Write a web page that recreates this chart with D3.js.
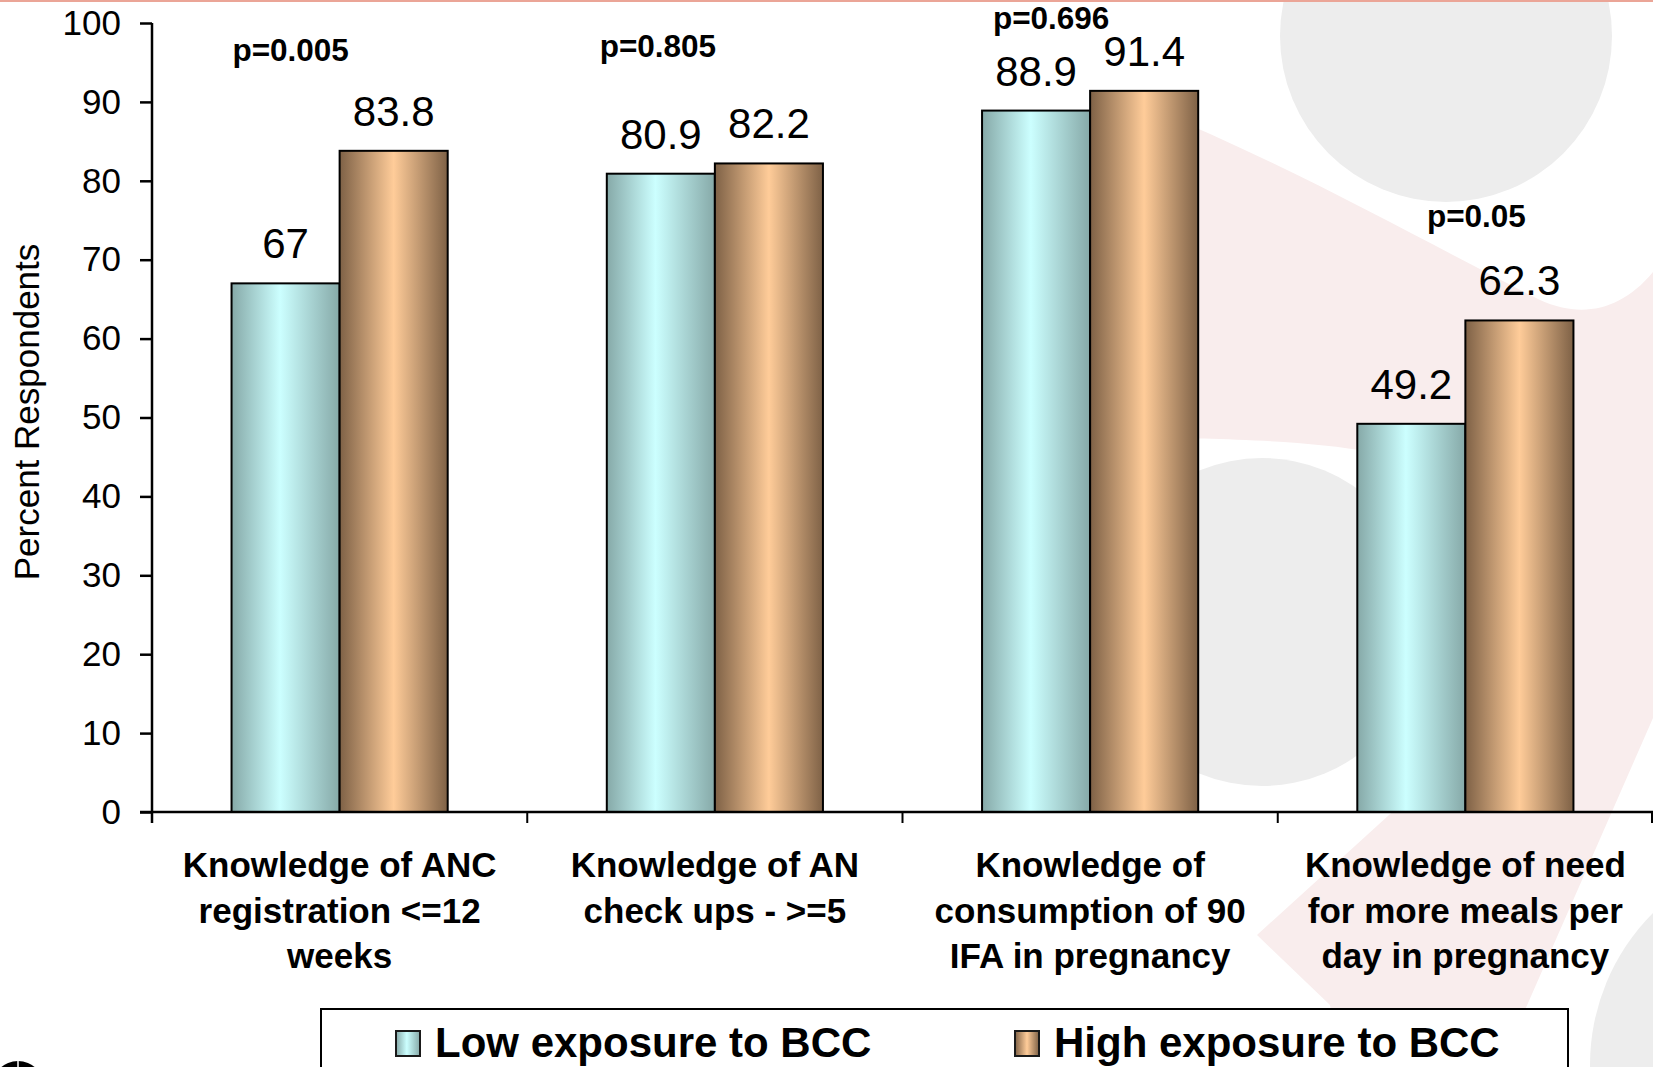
<!DOCTYPE html>
<html>
<head>
<meta charset="utf-8">
<script src="https://cdn.jsdelivr.net/npm/d3@7"></script>
<style>
  body { margin: 0; background: #fff; }
  svg { display: block; }
  text { font-family: "Liberation Sans", Arial, sans-serif; }
</style>
</head>
<body>
<svg id="chart" width="1653" height="1067"></svg>
<script>
// Category labels (one entry per line of the wrapped label)
const categories = [
  ["Knowledge of ANC", "registration <=12", "weeks"],
  ["Knowledge of AN", "check ups - >=5"],
  ["Knowledge of", "consumption of 90", "IFA in pregnancy"],
  ["Knowledge of need", "for more meals per", "day in pregnancy"]
];
const lowExposure  = [67, 80.9, 88.9, 49.2];
const highExposure = [83.8, 82.2, 91.4, 62.3];
const pValues = ["p=0.005", "p=0.805", "p=0.696", "p=0.05"];
const seriesNames = ["Low exposure to BCC", "High exposure to BCC"];
const yTicks = [0, 10, 20, 30, 40, 50, 60, 70, 80, 90, 100];

// Placement of the significance notes: horizontal shift from the group centre (px)
// and the height of the baseline in axis units.
const pNotePlacement = [
  { dx: -49, at: 95.2 },
  { dx: -57, at: 95.7 },
  { dx: -39, at: 99.2 },
  { dx: 11,  at: 74.1 }
];

const W = 1653, H = 1067;
const plot = { left: 152, right: 1653, top: 23, bottom: 812 };

const svg = d3.select("#chart");
const defs = svg.append("defs");

// Cylinder-like shading for the two series
function shade(id, edge, mid, midAt) {
  const g = defs.append("linearGradient").attr("id", id)
    .attr("x1", "0%").attr("x2", "100%").attr("y1", "0%").attr("y2", "0%");
  g.append("stop").attr("offset", "0%").attr("stop-color", edge);
  g.append("stop").attr("offset", midAt).attr("stop-color", mid);
  g.append("stop").attr("offset", "100%").attr("stop-color", edge);
}
shade("gradLow", "#86a9a8", "#ccffff", "45%");
shade("gradHigh", "#7e6146", "#ffcc99", "50%");
const fills = ["url(#gradLow)", "url(#gradHigh)"];

// ---- decorative slide background ----
const bg = svg.append("g");
bg.append("rect").attr("width", W).attr("height", H).attr("fill", "#fff");
bg.append("path")
  .attr("fill", "#f9eded")
  .attr("d", "M1150,108 C1300,170 1440,250 1540,300 C1580,318 1620,312 1653,272 " +
             "L1653,718 L1500,1067 L1340,1067 L1330,1005 L1257,935 L1400,805 " +
             "C1440,700 1430,490 1370,452 C1310,440 1200,438 1150,438 Z");
bg.append("circle").attr("cx", 1446).attr("cy", 36).attr("r", 166).attr("fill", "#ededed");
bg.append("circle").attr("cx", 1262).attr("cy", 622).attr("r", 164).attr("fill", "#ededed");
bg.append("circle").attr("cx", 1805).attr("cy", 1065).attr("r", 215).attr("fill", "#ededed");
bg.append("rect").attr("x", 0).attr("y", 0).attr("width", W).attr("height", 2).attr("fill", "#eba597");
bg.append("circle").attr("cx", 18).attr("cy", 1087).attr("r", 26).attr("fill", "#000");
bg.append("line").attr("x1", 18).attr("x2", 18).attr("y1", 1060).attr("y2", 1067)
  .attr("stroke", "#fff").attr("stroke-width", 1.5);

// ---- scales ----
const x = d3.scaleBand().domain(d3.range(categories.length))
  .range([plot.left, plot.right]).padding(0);
const groupW = x.bandwidth() * 0.576;
const x1 = d3.scaleBand().domain([0, 1]).range([0, groupW]).padding(0);
const y = d3.scaleLinear().domain([0, 100]).range([plot.bottom, plot.top]);

const rows = categories.map((c, i) => ({
  i, values: [lowExposure[i], highExposure[i]]
}));

// ---- bars ----
const groups = svg.append("g").selectAll("g").data(rows).join("g")
  .attr("transform", d => `translate(${x(d.i) + (x.bandwidth() - groupW) / 2},0)`);

groups.selectAll("rect").data(d => d.values.map((v, s) => ({ v, s }))).join("rect")
  .attr("x", d => x1(d.s))
  .attr("y", d => y(d.v))
  .attr("width", x1.bandwidth())
  .attr("height", d => y(0) - y(d.v))
  .attr("fill", d => fills[d.s])
  .attr("stroke", "#000")
  .attr("stroke-width", 2);

groups.selectAll("text.val").data(d => d.values.map((v, s) => ({ v, s }))).join("text")
  .attr("class", "val")
  .attr("x", d => x1(d.s) + x1.bandwidth() / 2)
  .attr("y", d => y(d.v) - 25)
  .attr("text-anchor", "middle")
  .attr("font-size", 42)
  .attr("fill", "#000")
  .text(d => String(d.v));

// ---- y axis ----
const yAxis = svg.append("g").attr("transform", `translate(${plot.left},0)`)
  .call(d3.axisLeft(y).tickValues(yTicks).tickSize(12).tickSizeOuter(0).tickPadding(19));
yAxis.select(".domain").attr("stroke", "#000").attr("stroke-width", 2.5)
  .attr("d", `M0,${plot.top}V${plot.bottom + 11}`);
yAxis.selectAll(".tick line").attr("stroke", "#000").attr("stroke-width", 2.5);
yAxis.selectAll(".tick text").attr("font-size", 35).attr("fill", "#000");

svg.append("text")
  .attr("transform", "translate(39,412) rotate(-90)")
  .attr("text-anchor", "middle")
  .attr("font-size", 35)
  .attr("fill", "#000")
  .text("Percent Respondents");

// ---- x axis ----
const xg = svg.append("g");
xg.append("line")
  .attr("x1", plot.left - 12).attr("x2", plot.right)
  .attr("y1", y(0)).attr("y2", y(0))
  .attr("stroke", "#000").attr("stroke-width", 2.5);
const edges = x.domain().map(i => x(i)).concat([x.range()[1] - 1]);
xg.selectAll("line.edge").data(edges).join("line")
  .attr("class", "edge")
  .attr("x1", d => d).attr("x2", d => d)
  .attr("y1", y(0)).attr("y2", y(0) + 11)
  .attr("stroke", "#000").attr("stroke-width", 2);

xg.selectAll("text.cat").data(rows).join("text")
  .attr("class", "cat")
  .attr("text-anchor", "middle")
  .attr("font-size", 35)
  .attr("font-weight", "bold")
  .attr("fill", "#000")
  .each(function (d) {
    d3.select(this).selectAll("tspan").data(categories[d.i]).join("tspan")
      .attr("x", x(d.i) + x.bandwidth() / 2)
      .attr("y", (t, k) => 877 + k * 45.5)
      .text(t => t);
  });

// ---- significance notes ----
svg.append("g").selectAll("text").data(pValues).join("text")
  .attr("x", (d, i) => x(i) + x.bandwidth() / 2 + pNotePlacement[i].dx)
  .attr("y", (d, i) => y(pNotePlacement[i].at))
  .attr("text-anchor", "middle")
  .attr("font-size", 31.5)
  .attr("font-weight", "bold")
  .attr("fill", "#000")
  .text(d => d);

// ---- legend ----
const lg = svg.append("g");
lg.append("rect").attr("x", 321).attr("y", 1009).attr("width", 1247).attr("height", 120)
  .attr("fill", "#fff").attr("stroke", "#000").attr("stroke-width", 2);
const legendX = [396, 1015];
const items = lg.selectAll("g").data(seriesNames).join("g")
  .attr("transform", (d, i) => `translate(${legendX[i]},1031)`);
items.append("rect").attr("width", 24).attr("height", 25)
  .attr("fill", (d, i) => fills[i]).attr("stroke", "#1a1a1a").attr("stroke-width", 2);
items.append("text").attr("x", 39).attr("y", 26)
  .attr("font-size", 42).attr("font-weight", "bold").attr("fill", "#000")
  .text(d => d);
</script>
</body>
</html>
